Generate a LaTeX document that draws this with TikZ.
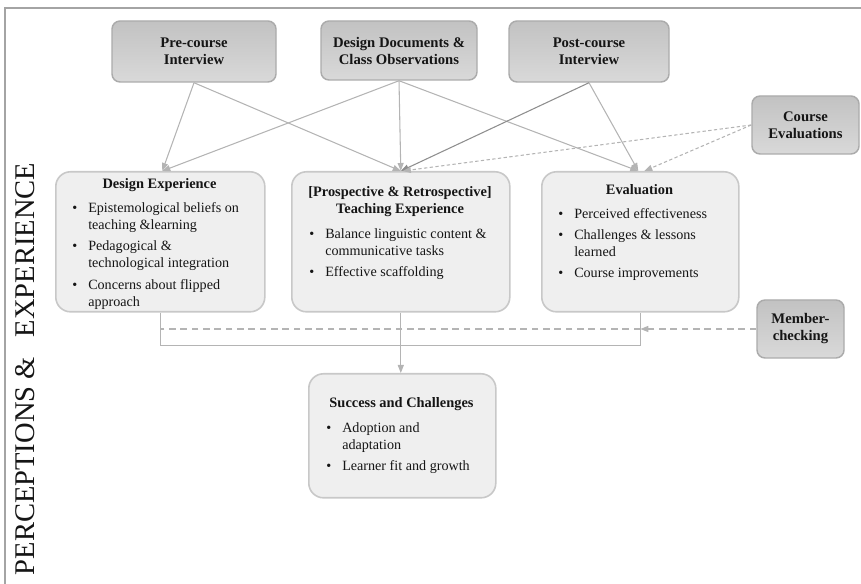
\documentclass[tikz,border=0pt]{standalone}
\usepackage{fontspec}
\setmainfont{Liberation Serif}
\usetikzlibrary{arrows.meta,calc}
\definecolor{lnc}{HTML}{B4B4B4}
\definecolor{lnd}{HTML}{8E8E8E}
\definecolor{framec}{HTML}{A4A4A4}
\definecolor{lightfill}{HTML}{EFEFEF}
\definecolor{lightdraw}{HTML}{C8C8C8}
\definecolor{darktop}{HTML}{C2C2C2}
\definecolor{darkbot}{HTML}{D9D9D9}
\definecolor{darkdraw}{HTML}{ABABAB}
\definecolor{txt}{HTML}{151515}
\newenvironment{blt}{\renewcommand{\arraystretch}{1}\begin{tabular}{@{}p{12pt}@{}l@{}}}{\end{tabular}}
\tikzset{
  darkbox/.style={draw=darkdraw, line width=1.1pt, rounded corners=6pt,
    top color=darktop, bottom color=darkbot, align=center, inner sep=0pt,
    text=txt, font=\bfseries\fontsize{11}{12.75}\selectfont},
  lightbox/.style={draw=lightdraw, line width=1.2pt, rounded corners=11pt,
    fill=lightfill, inner sep=0pt, anchor=north west},
  ttl/.style={inner sep=0pt, text=txt, align=center, font=\bfseries\fontsize{10.8}{12.75}\selectfont},
  blist/.style={inner sep=0pt, anchor=north west, text=txt,
    font=\fontsize{10.6}{12.9}\selectfont},
  conn/.style={draw=lnc, line width=0.8pt, -{Triangle[length=6pt,width=4.5pt]}},
  cdash/.style={conn, dash pattern=on 2.5pt off 1.8pt},
  mdash/.style={draw=lnc, line width=0.9pt, dash pattern=on 5pt off 3.5pt},
}
\begin{document}
\begin{tikzpicture}[x=0.75pt,y=-0.75pt]
\useasboundingbox (0,0) rectangle (861,584);
% frame
\draw[framec, line width=1.5pt] (5,584) -- (5,8) -- (861,8);
% side label
\node[rotate=90, inner sep=0pt, text=txt, font=\fontsize{21.4}{22}\selectfont] (side) at (25.5,369) {PERCEPTIONS \&\hspace{0.45em} EXPERIENCE};
% top boxes
\node[darkbox, minimum width=123pt, minimum height=45.75pt] (pre) at (194,51.5) {Pre-course\\Interview};
\node[darkbox, minimum width=117pt, minimum height=44.25pt] (dd) at (399,50.5) {Design Documents \&\\Class Observations};
\node[darkbox, minimum width=120pt, minimum height=45.75pt] (post) at (589,51.5) {Post-course\\Interview};
\node[darkbox, minimum width=80.25pt, minimum height=43.5pt] (ce) at (805.5,125) {Course\\Evaluations};
\node[darkbox, minimum width=65.25pt, minimum height=43.5pt] (mc) at (800.5,329) {Member-\\checking};
% main boxes
\node[lightbox, minimum width=156.75pt, minimum height=105pt] (de) at (55,171) {};
\node[lightbox, minimum width=163.5pt, minimum height=105pt] (te) at (291,171) {};
\node[lightbox, minimum width=147.75pt, minimum height=105pt] (ev) at (541,171) {};
\node[lightbox, minimum width=140.25pt, minimum height=93pt] (sc) at (308,373) {};
% titles
\node[ttl, anchor=base] (detitle) at (159.5,189) {Design Experience};
\node[ttl, anchor=north] (tetitle) at (400,185.3) {\rule{0pt}{8pt}[Prospective \& Retrospective]\\Teaching Experience};
\node[ttl, anchor=base] (evtitle) at (639.5,195) {Evaluation};
\node[ttl, anchor=base] (sctitle) at (401.5,408) {Success and Challenges};
% lists
\node[blist] (delist) at (72,200) {\begin{blt}
\textbullet & Epistemological beliefs on\\
 & teaching \&learning\\[3pt]
\textbullet & Pedagogical \&\\
 & technological integration\\[3pt]
\textbullet & Concerns about flipped\\
 & approach
\end{blt}};
\node[blist] (telist) at (309,226) {\begin{blt}
\textbullet & Balance linguistic content \&\\
 & communicative tasks\\[3pt]
\textbullet & Effective scaffolding
\end{blt}};
\node[blist] (evlist) at (558,206) {\begin{blt}
\textbullet & Perceived effectiveness\\[3pt]
\textbullet & Challenges \& lessons\\
 & learned\\[3pt]
\textbullet & Course improvements
\end{blt}};
\node[blist] (sclist) at (326,420) {\begin{blt}
\textbullet & Adoption and\\
 & adaptation\\[3pt]
\textbullet & Learner fit and growth
\end{blt}};
% connectors from top boxes
\draw[conn] (pre.south) -- ($(de.north)+(2,0)$);
\draw[conn] (pre.south) -- (te.north);
\draw[conn] (dd.south) -- ($(de.north)+(2,0)$);
\draw[conn] (dd.south) -- (te.north);
\draw[conn] (dd.south) -- ($(ev.north)+(-2,0)$);
\draw[conn, draw=lnd] (post.south) -- (te.north);
\draw[conn] (post.south) -- ($(ev.north)+(-2,0)$);
\draw[cdash] (ce.west) -- ($(te.north)+(2,0)$);
\draw[cdash] (ce.west) -- ($(ev.north)+(4,0)$);
% bottom connectors
\coordinate (jn) at ($(te.south)+(0,33)$);
\draw[draw=lnc, line width=0.8pt] (de.south) |- (jn) -| (ev.south);
\draw[conn] (te.south) -- (te.south |- sc.north);
\coordinate (mtip) at (ev.south |- mc.west);
\draw[mdash, -{Triangle[length=6pt,width=4.5pt]}] (mc.west) -- (mtip);
\draw[mdash] (mtip) -- (de.south |- mc.west);
\end{tikzpicture}
\end{document}
